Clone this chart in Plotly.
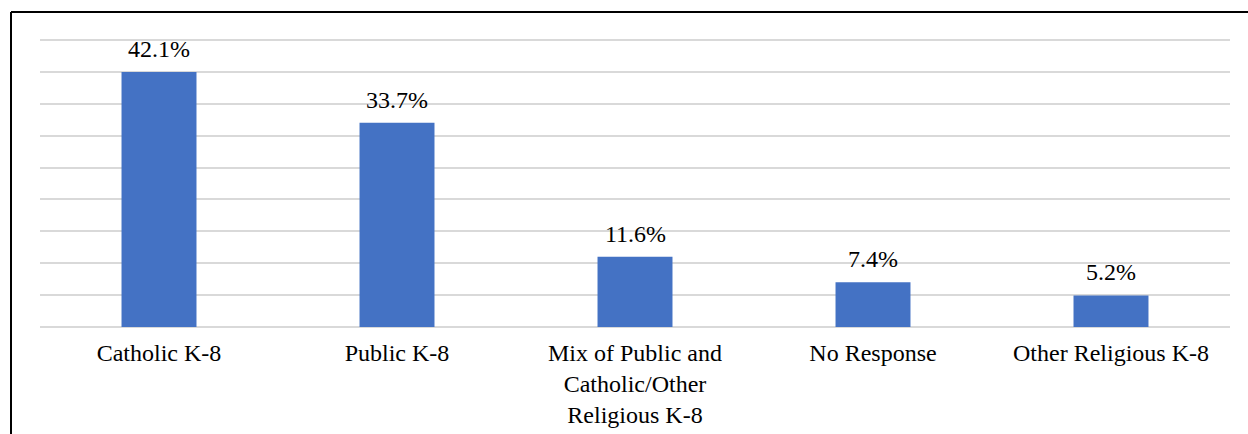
import plotly.graph_objects as go

# Share of respondents by type of K-8 school attended
categories = [
    "Catholic K-8",
    "Public K-8",
    "Mix of Public and<br>Catholic/Other<br>Religious K-8",
    "No Response",
    "Other Religious K-8",
]
percentages = [42.1, 33.7, 11.6, 7.4, 5.2]
value_labels = ["42.1%", "33.7%", "11.6%", "7.4%", "5.2%"]

W, H = 1248, 434
ML, MR, MT, MB = 40, 18, 30, 107
PW, PH = W - ML - MR, H - MT - MB
GRID_TOP_PX = 40              # pixel row of the highest gridline

grid_step = 100 / 19          # one gridline per five of 95 respondents
n_steps = 9
px_per_unit = (H - MB - GRID_TOP_PX) / (grid_step * n_steps)
y_max = grid_step * n_steps + (GRID_TOP_PX - MT) / px_per_unit

FONT = "Liberation Serif"

fig = go.Figure(
    go.Bar(
        x=categories,
        y=percentages,
        marker=dict(color="#4472C4", line=dict(width=0)),
        width=0.315,
        hoverinfo="skip",
    )
)

for cat, val, lab in zip(categories, percentages, value_labels):
    fig.add_annotation(
        x=cat, y=val, text=lab, showarrow=False,
        yanchor="bottom", yshift=8,
        font=dict(family=FONT, size=24, color="#000000"),
    )

def px_to_paper_x(px):
    return (px - ML) / PW

def px_to_paper_y(py):
    return (H - MB - py) / PH

# Outer frame: top and left edges
frame = dict(color="#000000", width=2)
fig.add_shape(type="line", xref="paper", yref="paper",
              x0=px_to_paper_x(11), x1=px_to_paper_x(W + 2),
              y0=px_to_paper_y(12), y1=px_to_paper_y(12), line=frame)
fig.add_shape(type="line", xref="paper", yref="paper",
              x0=px_to_paper_x(11), x1=px_to_paper_x(11),
              y0=px_to_paper_y(12), y1=px_to_paper_y(H + 2), line=frame)

fig.update_layout(
    width=W, height=H,
    margin=dict(l=ML, r=MR, t=MT, b=MB, autoexpand=False),
    paper_bgcolor="white", plot_bgcolor="white",
    showlegend=False,
    font=dict(family=FONT, size=24, color="#000000"),
    xaxis=dict(
        showgrid=False, showline=False, ticks="",
        tickfont=dict(family=FONT, size=24, color="#000000"),
        ticklabelstandoff=9, automargin=False,
    ),
    yaxis=dict(
        range=[0, y_max],
        tick0=0, dtick=grid_step,
        showticklabels=False, ticks="", automargin=False,
        showgrid=True, gridcolor="#D9D9D9", gridwidth=1.5,
        zeroline=True, zerolinecolor="#D9D9D9", zerolinewidth=1.5,
        showline=False,
    ),
)

fig.write_html("out.html")
